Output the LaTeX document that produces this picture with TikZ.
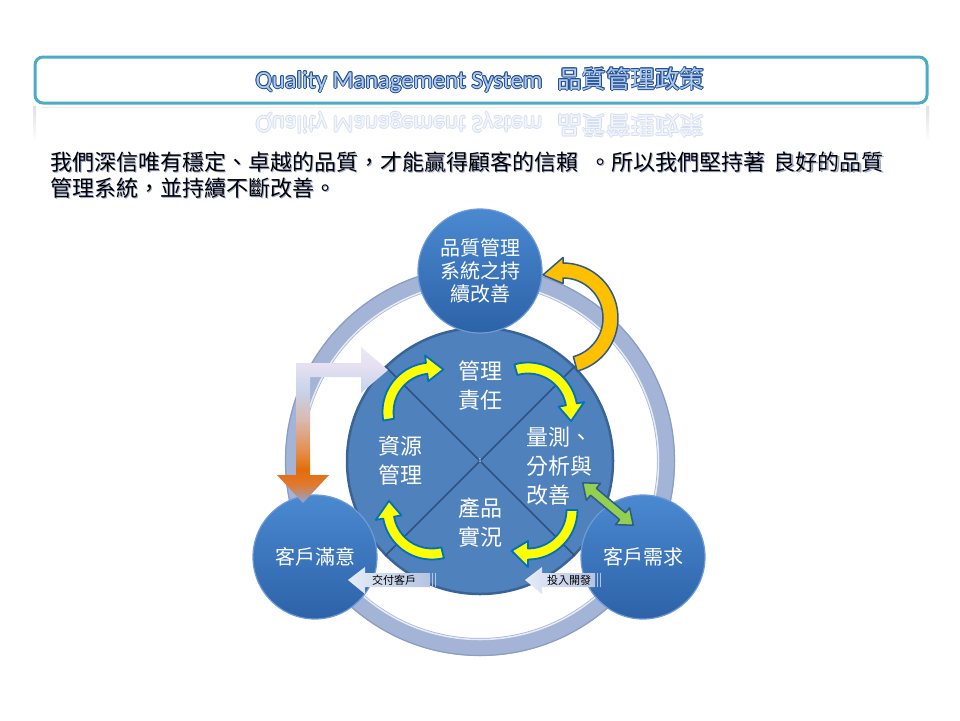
\documentclass[tikz,border=0pt]{standalone}
\usepackage{fontspec}
\usepackage{graphicx}
\setmainfont{Carlito}
\newfontfamily\cjk{Noto Sans CJK TC}
\usetikzlibrary{calc}
\definecolor{tborder}{HTML}{4BACC6}
\definecolor{tout}{HTML}{1F4F96}
\definecolor{tfill}{HTML}{B3C9EA}
\definecolor{rout}{HTML}{D3DDF0}
\definecolor{rfill}{HTML}{F2F5FB}
\definecolor{pshadow}{HTML}{9AA8D0}
\definecolor{ringc}{HTML}{A3B4D6}
\definecolor{ringdark}{HTML}{8A9DC4}
\definecolor{ccfill}{HTML}{4F81BD}
\definecolor{ccdraw}{HTML}{3B6496}
\definecolor{divc}{HTML}{2F5282}
\definecolor{sphtop}{HTML}{4A89D0}
\definecolor{sphbot}{HTML}{2D62A8}
\definecolor{sphrim}{HTML}{6E9BD6}
\definecolor{yfill}{HTML}{FFFF00}
\definecolor{ydraw}{HTML}{0070C0}
\definecolor{ofill}{HTML}{FFC000}
\definecolor{odraw}{HTML}{2F5A8A}
\definecolor{gfill}{HTML}{92D050}
\definecolor{sleft}{HTML}{E6ECF7}
\definecolor{sright}{HTML}{B5C4E2}
\definecolor{bA}{HTML}{8EA6D8}
\definecolor{bB}{HTML}{E07A30}
\definecolor{bC}{HTML}{E36C0A}
\definecolor{bD}{HTML}{E49050}
\definecolor{bE}{HTML}{D8B8B0}
\definecolor{bF}{HTML}{C8D4EC}
\definecolor{bG}{HTML}{E6E0F2}
\definecolor{bH}{HTML}{ECE8F6}
\pgfdeclareverticalshading{bentshade}{100bp}{color(0bp)=(bA); color(25bp)=(bA); color(30.8bp)=(bB); color(35.6bp)=(bC); color(42bp)=(bD); color(51.6bp)=(bE); color(61.2bp)=(bF); color(69.2bp)=(bG); color(75bp)=(bH); color(100bp)=(bH)}
\newcommand\titlestr{Quality Management System\hspace{15pt}{\cjk 品質管理政策}}
\newcommand\paraA{我們深信唯有穩定、卓越的品質，才能贏得顧客的信賴\hspace{0.5em}。所以我們堅持著\hspace{0.4em}良好的品質}
\newcommand\paraB{管理系統，並持續不斷改善。}
\newcommand\yarrow[4]{%
  \filldraw[yarr] ($(#1,#2)+(#3:49.5)$) arc[start angle=#3,end angle=#4,radius=49.5]
    -- ($(#1,#2)+(#4:57)$) -- ($(#1,#2)+({#4+22}:44)$) -- ($(#1,#2)+(#4:31)$)
    -- ($(#1,#2)+(#4:38.5)$) arc[start angle=#4,end angle=#3,radius=38.5] -- cycle;}
\tikzset{
  ttl/.style={font=\fontsize{24.5}{28}\selectfont, inner sep=0pt},
  para/.style={font=\cjk\fontsize{22}{25}\selectfont, inner sep=0pt, anchor=west},
  ctext/.style={text=white, font=\cjk\fontsize{22}{29}\selectfont, align=center, inner sep=0pt},
  sphere/.style={circle, minimum size=124pt, inner sep=0pt, top color=sphtop, bottom color=sphbot,
    draw=sphrim, line width=1.2pt, text=white, font=\cjk\fontsize{20}{23}\selectfont, align=center},
  yarr/.style={fill=yfill, draw=ydraw, line width=1.8pt, line join=round},
  oarr/.style={fill=ofill, draw=odraw, line width=1.5pt, line join=round},
  garr/.style={fill=gfill, draw=odraw, line width=1.5pt, line join=round},
  sarr/.style={left color=sleft, right color=sright},
  lbl/.style={font=\cjk\fontsize{11}{13}\selectfont, text=black, inner sep=0pt}
}
\begin{document}
\begin{tikzpicture}[x=1pt,y=-1pt]
\useasboundingbox (0,0) rectangle (960,720);
\fill[white] (0,0) rectangle (960,720);
% title box
\draw[tborder, line width=3pt, rounded corners=8pt, fill=white] (35,57) rectangle (927,103);
% reflection of box
\draw[black!8, line width=1pt] (42,107) -- (920,107);
\shade[top color=black!12, bottom color=white] (33,106) rectangle (36,142);
\shade[top color=black!12, bottom color=white] (926,106) rectangle (929,142);
% title text (outlined)
\foreach[count=\i] \dx/\dy in {-0.9/0,0.9/0,0/-0.9,0/0.9,-0.7/-0.7,0.7/0.7,-0.7/0.7,0.7/-0.7}
  \node[ttl, text=tout] (tto\i) at ($(480,80)+(\dx,\dy)$) {\titlestr};
\node[ttl, text=tfill] (ttl) at (480,80) {\titlestr};
% reflection text
\foreach[count=\i] \dx/\dy in {-0.8/0,0.8/0,0/-0.8,0/0.8}
  \node[ttl, text=rout] (tro\i) at ($(480,125)+(\dx,\dy)$) {\scalebox{1}[-1]{\titlestr}};
\node[ttl, text=rfill] (trefl) at (480,125) {\scalebox{1}[-1]{\titlestr}};
% paragraph
\node[para, text=pshadow] (p1s) at (51.2,163.2) {\paraA};
\node[para, text=pshadow] (p2s) at (51.2,189.2) {\paraB};
\node[para] (p1) at (50,162) {\paraA};
\node[para] (p2) at (50,188) {\paraB};
% ring
\coordinate (C) at (480,461);
\draw[ringc, line width=18pt] (C) circle[radius=186];
\draw[ringdark, line width=1.2pt] (C) circle[radius=194.5];
\draw[white, opacity=0.75, line width=1.5pt] (C) circle[radius=178.5];
% centre circle
\node[circle, minimum size=266pt, inner sep=0pt, fill=ccfill, draw=ccdraw, line width=2.5pt] (cc) at (C) {};
\draw[divc, line width=1.5pt] (cc.45) -- (cc.225);
\draw[divc, line width=1.5pt] (cc.135) -- (cc.315);
\node[font=\fontsize{6}{6}\selectfont, text=white, inner sep=0pt] (one) at (C) {1};
% outer spheres
\node[sphere] (q) at (480,271) {品質管理\\系統之持\\續改善};
\node[sphere] (cs) at (315,557) {客戶滿意};
\node[sphere] (cn) at (643,557) {客戶需求};
% bent arrow
\shade[shading=bentshade] (296,363) -- (361,363) -- (361,347) -- (388,370) -- (361,393) -- (361,377)
  -- (310,377) -- (310,475) -- (329,475) -- (303,503) -- (277,475) -- (296,475) -- cycle;
% yellow cycle arrows
\yarrow{432}{412}{170}{263}
\yarrow{528}{412}{254}{350}
\yarrow{528}{510}{0}{90}
\yarrow{432}{510}{76}{170}
% centre texts
\node[ctext] (t1) at (480,386) {管理\\責任};
\node[ctext] (t2) at (400,461) {資源\\管理};
\node[ctext] (t3) at (480,523) {產品\\實況};
\node[ctext, align=left, anchor=west] (t4) at (526,466) {量測、\\分析與\\改善};
% orange arrow
\coordinate (O) at (563,318);
\filldraw[oarr] ($(O)+(75:55)$) arc[start angle=75,end angle=-90,radius=55]
  -- ($(O)+(-90:60.5)$) -- ($(O)+(-115:47.5)$) -- ($(O)+(-90:34.5)$)
  -- ($(O)+(-90:40)$) arc[start angle=-90,end angle=75,radius=40] -- cycle;
% green double arrow
\begin{scope}[shift={(608,504)}, rotate=-40]
\filldraw[garr] (-33,0) -- (-19,-11) -- (-19,-4.5) -- (19,-4.5) -- (19,-11) -- (33,0)
  -- (19,11) -- (19,4.5) -- (-19,4.5) -- (-19,11) -- cycle;
\end{scope}
% small arrows
\shade[sarr] (348,580) -- (365,567) -- (365,573) -- (430,573) -- (430,587) -- (365,587) -- (365,594) -- cycle;
\fill[sright] (431.5,573) rectangle (433,587);
\fill[sright] (434.5,573) rectangle (436,587);
\shade[sarr] (525,580) -- (542,567) -- (542,573) -- (595,573) -- (595,587) -- (542,587) -- (542,594) -- cycle;
\fill[sright] (596.5,573) rectangle (598,587);
\fill[sright] (599.5,573) rectangle (601,587);
\node[lbl] (l1) at (394,580) {交付客戶};
\node[lbl] (l2) at (569,580) {投入開發};
\end{tikzpicture}
\end{document}
